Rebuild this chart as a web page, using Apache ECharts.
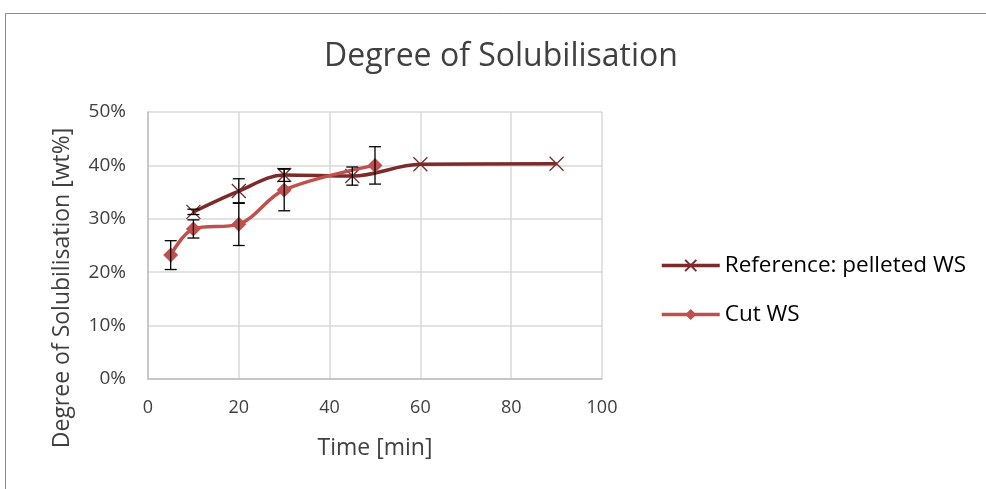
<!DOCTYPE html>
<html><head><meta charset="utf-8">
<script src="https://cdn.jsdelivr.net/npm/echarts@6/dist/echarts.min.js"></script>
<style>html,body{margin:0;padding:0;background:#fff}#c{width:986px;height:489px}</style>
</head><body><div id="c"></div>
<script>
const chartTitle = 'Degree of Solubilisation';
const xAxisTitle = 'Time [min]';
const yAxisTitle = 'Degree of Solubilisation [wt%]';
const refName = 'Reference: pelleted WS';
const refTime = [10, 20, 30, 45, 60, 90];
const refValue = [31.3, 35.2, 38.2, 38.0, 40.2, 40.3];
const refErr = [0.5, 2.3, 1.2, 1.7, 0, 0];
const cutName = 'Cut WS';
const cutTime = [5, 10, 20, 30, 50];
const cutValue = [23.2, 28.1, 29.0, 35.4, 40.0];
const cutErr = [2.7, 1.7, 4.0, 3.9, 3.5];

const FONT = 'Open Sans';
const refColor = '#7A2B2A';
const cutColor = '#C0504D';

function pairs(xs, ys) { return xs.map((x, i) => [x, ys[i]]); }
function errData(xs, ys, es) {
  const out = [];
  xs.forEach((x, i) => { if (es[i] > 0) out.push([x, ys[i] - es[i], ys[i] + es[i]]); });
  return out;
}
function errRender(params, api) {
  const x = api.value(0);
  const lo = api.coord([x, api.value(1)]);
  const hi = api.coord([x, api.value(2)]);
  const w = 6;
  const st = { stroke: '#000', lineWidth: 1.3 };
  return {
    type: 'group',
    children: [
      { type: 'line', shape: { x1: lo[0], y1: lo[1], x2: hi[0], y2: hi[1] }, style: st },
      { type: 'line', shape: { x1: lo[0] - w, y1: lo[1], x2: lo[0] + w, y2: lo[1] }, style: st },
      { type: 'line', shape: { x1: hi[0] - w, y1: hi[1], x2: hi[0] + w, y2: hi[1] }, style: st }
    ]
  };
}

const chart = echarts.init(document.getElementById('c'), null, { renderer: 'canvas' });
chart.setOption({
  backgroundColor: '#fff',
  animation: false,
  title: {
    text: chartTitle, left: 319, top: 36,
    textStyle: { fontFamily: FONT, fontSize: 32, fontWeight: 'normal', color: '#404040' }
  },
  graphic: [
    { type: 'rect', shape: { x: 5.5, y: 13.5, width: 1200, height: 600 },
      style: { fill: 'none', stroke: '#8c8c8c', lineWidth: 1 }, silent: true },
    { type: 'text', x: 62, y: 288, rotation: Math.PI / 2,
      style: { text: yAxisTitle, fontFamily: FONT, fontSize: 23, fill: '#404040', align: 'center', verticalAlign: 'middle' } }
  ],
  grid: { left: 148, right: 384, top: 112, bottom: 110 },
  legend: {
    orient: 'vertical', left: 655, top: 249, itemGap: 26,
    itemWidth: 58, itemHeight: 14,
    lineStyle: { width: 3.5 },
    textStyle: { fontFamily: FONT, fontSize: 22.5, color: '#000' },
    data: [refName, cutName]
  },
  xAxis: {
    type: 'value', min: 0, max: 100, interval: 20,
    name: xAxisTitle, nameLocation: 'middle', nameGap: 58,
    nameTextStyle: { fontFamily: FONT, fontSize: 23, color: '#404040' },
    axisLine: { show: true, lineStyle: { color: '#bfbfbf', width: 1.5 } },
    axisTick: { show: false },
    axisLabel: { fontFamily: FONT, fontSize: 18, color: '#404040', margin: 20 },
    splitLine: { show: true, lineStyle: { color: '#d9d9d9', width: 1.5 } }
  },
  yAxis: {
    type: 'value', min: 0, max: 50, interval: 10,
    axisLine: { show: true, lineStyle: { color: '#bfbfbf', width: 1.5 } },
    axisTick: { show: false },
    axisLabel: { fontFamily: FONT, fontSize: 19, color: '#404040', margin: 22, formatter: '{value}%' },
    splitLine: { show: true, lineStyle: { color: '#d9d9d9', width: 1.5 } }
  },
  series: [
    {
      name: refName, type: 'line', smooth: 0.35, z: 3,
      data: pairs(refTime, refValue),
      symbol: 'path://M0,0 L10,10 M10,0 L0,10', symbolSize: 14,
      lineStyle: { color: refColor, width: 3.5 },
      itemStyle: { color: refColor, borderColor: refColor, borderWidth: 1.3 }
    },
    {
      name: cutName, type: 'line', smooth: 0.35, z: 4,
      data: pairs(cutTime, cutValue),
      symbol: 'diamond', symbolSize: 15,
      lineStyle: { color: cutColor, width: 3.5 },
      itemStyle: { color: cutColor }
    },
    { type: 'custom', renderItem: errRender, data: errData(refTime, refValue, refErr), z: 5, silent: true },
    { type: 'custom', renderItem: errRender, data: errData(cutTime, cutValue, cutErr), z: 5, silent: true }
  ]
});
</script>
</body></html>
